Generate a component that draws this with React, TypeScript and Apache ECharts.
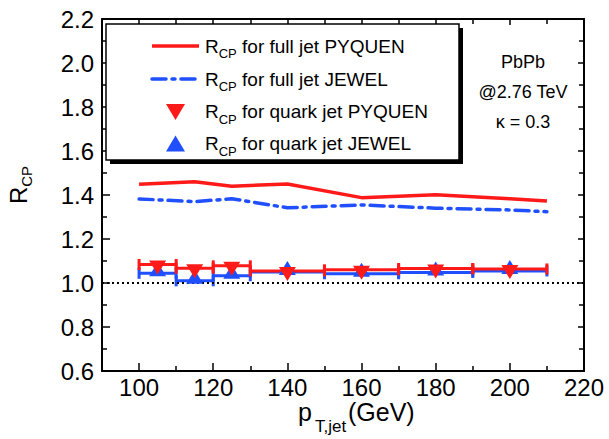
import React, { useEffect, useRef } from "react";
import * as echarts from "echarts";

const fullX = [100, 115, 125, 140, 160, 180, 200, 210];
const fullPyquen = [1.449, 1.46, 1.44, 1.45, 1.388, 1.401, 1.383, 1.373];
const fullJewel = [1.382, 1.37, 1.383, 1.342, 1.355, 1.34, 1.332, 1.324];

const quarkX = [105, 115, 125, 140, 160, 180, 200];
const quarkXLo = [100, 110, 120, 130, 150, 170, 190];
const quarkXHi = [110, 120, 130, 150, 170, 190, 210];
const quarkPyquen = [1.084, 1.067, 1.078, 1.055, 1.06, 1.066, 1.064];
const quarkJewel = [1.044, 1.01, 1.033, 1.05, 1.042, 1.048, 1.055];

const xMajor = [100, 120, 140, 160, 180, 200, 220];
const xMinor = [110, 130, 150, 170, 190, 210];

const RED = "#ff1a1a";
const BLUE = "#1f4fff";
const FONT = "Liberation Sans, Arial, sans-serif";

export default function App() {
  const ref = useRef<HTMLDivElement>(null);
  useEffect(() => {
    document.body.style.margin = "0";
    if (!ref.current) return;
    const chart = echarts.init(ref.current, null, { renderer: "svg" });

    const errBar = (color: string) => (params: any, api: any) => {
      const y = api.value(1);
      const p1 = api.coord([api.value(2), y]);
      const p2 = api.coord([api.value(3), y]);
      const cap = 5.5;
      const st = { stroke: color, lineWidth: 3 };
      return {
        type: "group",
        children: [
          { type: "line", shape: { x1: p1[0], y1: p1[1], x2: p2[0], y2: p2[1] }, style: st },
          { type: "line", shape: { x1: p1[0], y1: p1[1] - cap, x2: p1[0], y2: p1[1] + cap }, style: st },
          { type: "line", shape: { x1: p2[0], y1: p2[1] - cap, x2: p2[0], y2: p2[1] + cap }, style: st },
        ],
      };
    };

    const axisLine = { show: true, lineStyle: { color: "#000", width: 2 } };
    const tickStyle = { color: "#000", width: 1.5 };
    const xBase = { type: "value", min: 90, max: 220, splitLine: { show: false } };

    const richTxt = {
      r: { fontSize: 19, fontFamily: FONT, color: "#000" },
      s: { fontSize: 13, fontFamily: FONT, color: "#000", padding: [15, 0, 0, 0] },
    };
    const legendRows = [
      { y: 46, label: "for full jet PYQUEN" },
      { y: 79, label: "for full jet JEWEL" },
      { y: 111.5, label: "for quark jet PYQUEN" },
      { y: 143.5, label: "for quark jet JEWEL" },
    ];

    chart.setOption({
      animation: false,
      grid: { left: 102, right: 25, top: 19, bottom: 68, containLabel: false },
      xAxis: [
        {
          ...xBase,
          position: "bottom",
          axisLine,
          axisTick: { show: true, inside: true, length: 8, lineStyle: tickStyle, customValues: xMajor },
          axisLabel: {
            show: true,
            customValues: xMajor,
            fontSize: 24,
            lineHeight: 20,
            fontFamily: FONT,
            color: "#000",
            margin: 6,
          },
        },
        {
          ...xBase,
          position: "bottom",
          axisLine: { show: false },
          axisTick: { show: true, inside: true, length: 5, lineStyle: tickStyle, customValues: xMinor },
          axisLabel: { show: false },
        },
        {
          ...xBase,
          position: "top",
          axisLine,
          axisTick: { show: true, inside: true, length: 6, lineStyle: tickStyle, customValues: xMajor },
          axisLabel: { show: false },
        },
        {
          ...xBase,
          position: "top",
          axisLine: { show: false },
          axisTick: { show: true, inside: true, length: 5, lineStyle: tickStyle, customValues: xMinor },
          axisLabel: { show: false },
        },
      ],
      yAxis: [
        {
          type: "value",
          position: "left",
          min: 0.6,
          max: 2.2,
          interval: 0.2,
          splitLine: { show: false },
          axisLine,
          axisTick: { show: true, inside: true, length: 8, lineStyle: tickStyle },
          minorTick: { show: true, splitNumber: 2, length: 5, lineStyle: tickStyle },
          axisLabel: {
            fontSize: 24,
            fontFamily: FONT,
            color: "#000",
            margin: 8,
            formatter: (v: number) => v.toFixed(1),
          },
        },
        {
          type: "value",
          position: "right",
          min: 0.6,
          max: 2.2,
          interval: 0.2,
          splitLine: { show: false },
          axisLine,
          axisTick: { show: true, inside: true, length: 6, lineStyle: tickStyle },
          minorTick: { show: true, splitNumber: 2, length: 5, lineStyle: tickStyle },
          axisLabel: { show: false },
        },
      ],
      series: [
        {
          name: "R_CP for full jet PYQUEN",
          type: "line",
          data: fullX.map((x, i) => [x, fullPyquen[i]]),
          symbol: "none",
          lineStyle: { color: RED, width: 3.5 },
          z: 3,
          markLine: {
            silent: true,
            symbol: "none",
            label: { show: false },
            lineStyle: { color: "#000", width: 2, type: [2, 3] },
            data: [{ yAxis: 1.0 }],
          },
        },
        {
          name: "R_CP for full jet JEWEL",
          type: "line",
          data: fullX.map((x, i) => [x, fullJewel[i]]),
          symbol: "none",
          lineStyle: { color: BLUE, width: 3.5, type: [14, 6, 3, 6], cap: "round" },
          z: 2,
        },
        {
          name: "err JEWEL",
          type: "custom",
          renderItem: errBar(BLUE),
          data: quarkX.map((x, i) => [x, quarkJewel[i], quarkXLo[i], quarkXHi[i]]),
          encode: { x: 0, y: 1 },
          z: 4,
        },
        {
          name: "err PYQUEN",
          type: "custom",
          renderItem: errBar(RED),
          data: quarkX.map((x, i) => [x, quarkPyquen[i], quarkXLo[i], quarkXHi[i]]),
          encode: { x: 0, y: 1 },
          z: 5,
        },
        {
          name: "R_CP for quark jet JEWEL",
          type: "scatter",
          data: quarkX.map((x, i) => [x, quarkJewel[i]]),
          symbol: "triangle",
          symbolSize: [17, 14],
          symbolOffset: [0, -4],
          itemStyle: { color: BLUE, opacity: 1 },
          z: 6,
        },
        {
          name: "R_CP for quark jet PYQUEN",
          type: "scatter",
          data: quarkX.map((x, i) => [x, quarkPyquen[i]]),
          symbol: "triangle",
          symbolRotate: 180,
          symbolSize: [17, 14],
          symbolOffset: [0, 3],
          itemStyle: { color: RED, opacity: 1 },
          z: 7,
        },
      ],
      graphic: [
        { type: "rect", shape: { x: 110, y: 28, width: 353, height: 136 }, style: { fill: "#000" }, z: 10 },
        {
          type: "rect",
          shape: { x: 106, y: 24, width: 353, height: 136 },
          style: { fill: "#fff", stroke: "#000", lineWidth: 1.5 },
          z: 11,
        },
        { type: "line", shape: { x1: 152, y1: 46, x2: 199, y2: 46 }, style: { stroke: RED, lineWidth: 3.5 }, z: 12 },
        {
          type: "line",
          shape: { x1: 152, y1: 79, x2: 199, y2: 79 },
          style: { stroke: BLUE, lineWidth: 3.5, lineDash: [14, 6, 3, 6], lineCap: "round" },
          z: 12,
        },
        {
          type: "polygon",
          shape: { points: [[166, 104], [185, 104], [175.5, 120]] },
          style: { fill: RED },
          z: 12,
        },
        {
          type: "polygon",
          shape: { points: [[166, 151.5], [185, 151.5], [175.5, 135.5]] },
          style: { fill: BLUE },
          z: 12,
        },
        ...legendRows.map((r) => ({
          type: "text",
          x: 205,
          y: r.y,
          z: 12,
          style: {
            text: `{r|R}{s|CP}{r| ${r.label}}`,
            rich: richTxt,
            verticalAlign: "middle",
            align: "left",
          },
        })),
        ...["PbPb", "@2.76 TeV", "κ = 0.3"].map((t, i) => ({
          type: "text",
          x: 523,
          y: 62 + i * 30,
          z: 12,
          style: { text: t, fontSize: 18, fontFamily: FONT, fill: "#000", align: "center", verticalAlign: "middle" },
        })),
        {
          type: "text",
          x: 18,
          y: 185,
          rotation: Math.PI / 2,
          z: 12,
          style: {
            text: "{m|R}{s|CP}",
            rich: {
              m: { fontSize: 24, fontFamily: FONT, color: "#000" },
              s: { fontSize: 15, fontFamily: FONT, color: "#000", padding: [16, 0, 0, 0] },
            },
            align: "center",
            verticalAlign: "middle",
          },
        },
        {
          type: "text",
          x: 298,
          y: 412,
          z: 12,
          style: {
            text: "p",
            fontSize: 25,
            lineHeight: 20,
            fontFamily: FONT,
            fill: "#000",
            align: "left",
            verticalAlign: "middle",
          },
        },
        {
          type: "text",
          x: 315,
          y: 426,
          z: 12,
          style: {
            text: "T,jet",
            fontSize: 17,
            lineHeight: 14,
            fontFamily: FONT,
            fill: "#000",
            align: "left",
            verticalAlign: "middle",
          },
        },
        {
          type: "text",
          x: 348,
          y: 412,
          z: 12,
          style: {
            text: "(GeV)",
            fontSize: 25,
            lineHeight: 20,
            fontFamily: FONT,
            fill: "#000",
            align: "left",
            verticalAlign: "middle",
          },
        },
      ],
    });
    return () => chart.dispose();
  }, []);
  return <div ref={ref} style={{ width: 609, height: 439 }} />;
}
